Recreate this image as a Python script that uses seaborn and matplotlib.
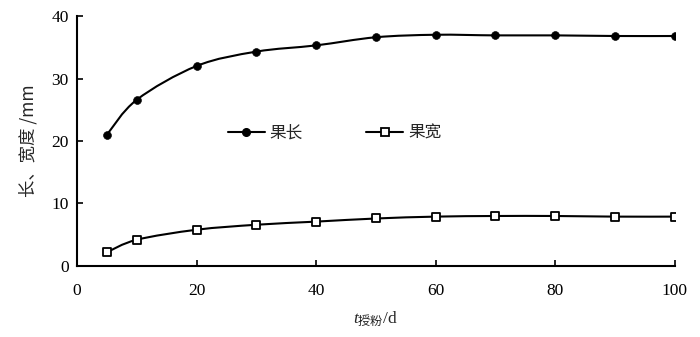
import numpy as np
import pandas as pd
import seaborn as sns
import matplotlib
matplotlib.use("Agg")
import matplotlib.pyplot as plt
from matplotlib.path import Path
from matplotlib.patches import PathPatch
from matplotlib.lines import Line2D

days = [5, 10, 20, 30, 40, 50, 60, 70, 80, 90, 100]
fruit_length = [21.0, 26.6, 32.0, 34.3, 35.3, 36.6, 37.0, 36.9, 36.9, 36.8, 36.8]
fruit_width = [2.2, 4.2, 5.8, 6.6, 7.1, 7.6, 7.9, 8.0, 8.0, 7.9, 7.9]
series_names = ["果长", "果宽"]

df = pd.DataFrame({"days": days, "果长": fruit_length, "果宽": fruit_width})

sns.set_theme(style="ticks")
plt.rcParams["font.family"] = ["Liberation Serif", "Noto Sans CJK SC", "DejaVu Sans"]
plt.rcParams["mathtext.fontset"] = "custom"
plt.rcParams["mathtext.it"] = "Liberation Serif:italic"
plt.rcParams["mathtext.rm"] = "Noto Sans CJK SC"

fig = plt.figure(figsize=(7, 3.37), dpi=100)
ax = fig.add_axes([0.11, 0.2107, 0.854, 0.7418])


def smooth_path(x, y):
    # excel-like smoothed line: catmull-rom segments as cubic beziers
    x = np.asarray(x, float)
    y = np.asarray(y, float)
    verts = [(x[0], y[0])]
    codes = [Path.MOVETO]
    n = len(x)
    for i in range(n - 1):
        p0 = (x[max(i - 1, 0)], y[max(i - 1, 0)])
        p1 = (x[i], y[i])
        p2 = (x[i + 1], y[i + 1])
        p3 = (x[min(i + 2, n - 1)], y[min(i + 2, n - 1)])
        c1 = (p1[0] + (p2[0] - p0[0]) / 6, p1[1] + (p2[1] - p0[1]) / 6)
        c2 = (p2[0] - (p3[0] - p1[0]) / 6, p2[1] - (p3[1] - p1[1]) / 6)
        verts += [c1, c2, p2]
        codes += [Path.CURVE4] * 3
    return Path(verts, codes)


for col in series_names:
    ax.add_patch(PathPatch(smooth_path(df["days"], df[col]), fill=False,
                           edgecolor="black", lw=1.5, zorder=2))

sns.scatterplot(data=df, x="days", y="果长", ax=ax, marker="o", s=32,
                color="black", edgecolor="black", zorder=3)
sns.scatterplot(data=df, x="days", y="果宽", ax=ax, marker="s", s=40,
                facecolor="white", edgecolor="black", linewidth=1.3, zorder=3)

ax.set_xlim(0, 100)
ax.set_ylim(0, 40)
ax.set_xticks([0, 20, 40, 60, 80, 100])
ax.set_yticks([0, 10, 20, 30, 40])
ax.tick_params(direction="in", length=4, width=1.2, labelsize=12.5, colors="black")
ax.tick_params(axis="x", pad=12)
ax.tick_params(axis="y", pad=6)
for s in ["left", "bottom"]:
    ax.spines[s].set_linewidth(1.5)
    ax.spines[s].set_color("black")
sns.despine(ax=ax)

ax.set_ylabel("长、宽度 /mm", fontsize=12.5, family=["Noto Sans CJK SC", "DejaVu Sans"], labelpad=10)
ax.set_xlabel(r"$\mathit{t}_{\mathrm{授粉}}$/d", fontsize=12.5, labelpad=8)

handles = [
    Line2D([], [], color="black", lw=1.5, marker="o", markersize=5.5),
    Line2D([], [], color="black", lw=1.5, marker="s", markersize=6,
           markerfacecolor="white", markeredgewidth=1.3),
]
ax.legend(handles, series_names, ncol=2, frameon=False, loc="center",
          bbox_to_anchor=(0.431, 0.53), handlelength=2.2, handletextpad=0.3,
          columnspacing=3.8, prop={"family": "Noto Sans CJK SC", "size": 12})

fig.savefig("out.png", dpi=100)
